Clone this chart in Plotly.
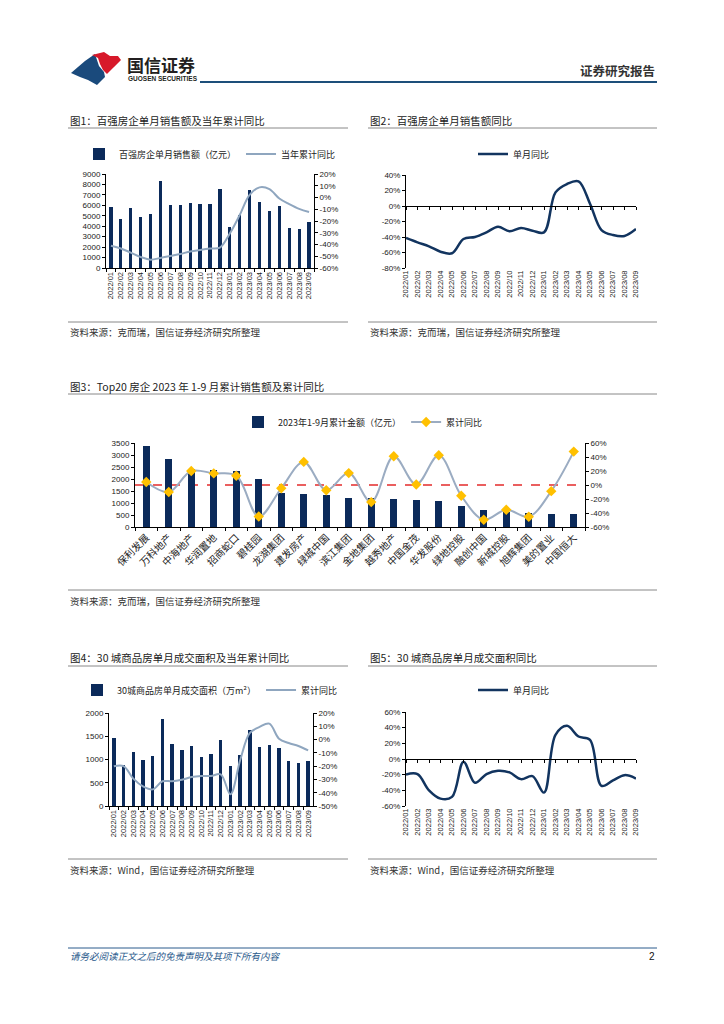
import plotly.graph_objects as go

W, H = 724, 1024

# ---------------- data ----------------
months = ["2022/01", "2022/02", "2022/03", "2022/04", "2022/05", "2022/06", "2022/07",
          "2022/08", "2022/09", "2022/10", "2022/11", "2022/12", "2023/01", "2023/02",
          "2023/03", "2023/04", "2023/05", "2023/06", "2023/07", "2023/08", "2023/09"]

top100_sales = [5850, 4660, 5750, 4890, 5180, 8300, 6050, 6050, 6240, 6140, 6140, 7590,
                3920, 5080, 7460, 6330, 5470, 5980, 3790, 3730, 4400]
top100_cum_yoy = [-41, -43.4, -46.9, -50.6, -52.9, -51.4, -49.7, -48, -46, -44.6, -43.4, -42.6,
                  -30.6, -14.9, 2.3, 8.6, 7.1, -0.9, -5.7, -9.7, -12.3]
top100_month_yoy = [-41.3, -47, -52, -59, -61, -42.6, -40, -34, -26.7, -32.7, -28.4, -31.8,
                    -34, 17.6, 28.4, 31.8, 3, -31, -37.4, -38.7, -29.7]

top20_names = ["保利发展", "万科地产", "中海地产", "华润置地", "招商蛇口", "碧桂园", "龙湖集团",
               "建发房产", "绿城中国", "滨江集团", "金地集团", "越秀地产", "中国金茂", "华发股份",
               "绿地控股", "融创中国", "新城控股", "旭辉集团", "美的置业", "中国恒大"]
top20_sales = [3360, 2850, 2400, 2360, 2320, 1990, 1420, 1360, 1320, 1220, 1220, 1150, 1110,
               1070, 860, 720, 625, 570, 530, 530]
top20_yoy = [4.3, -10, 20, 16.6, 13.3, -45, -4.7, 33, -7.6, 17, -24.4, 41, 0.7, 42.5, -15.4,
             -49.6, -35.3, -45.3, -8.8, 47.7]

city30_area = [1460, 875, 1155, 982, 1068, 1864, 1326, 1197, 1283, 1061, 1125, 1412, 853, 1090,
               1634, 1262, 1305, 1240, 960, 932, 960]
city30_cum_yoy = [-20.1, -20, -29.4, -35.2, -37.5, -31.4, -31.4, -30.2, -28.2, -27.4, -27.4, -26.2,
                  -41.2, -15.6, 5, 9.5, 12, 0.7, -2.6, -4.8, -8.1]
city30_month_yoy = [-19.7, -19.3, -40, -50.6, -48.4, -3.4, -30.4, -19.3, -15, -17.1, -25.7, -21.9,
                    -42.9, 30.9, 42.4, 28.7, 24.4, -34.3, -27.4, -20.6, -24.9]

pct_ticks_1 = [-60, -50, -40, -30, -20, -10, 0, 10, 20]
pct_ticks_2 = [-80, -60, -40, -20, 0, 20, 40]
pct_ticks_3 = [-60, -40, -20, 0, 20, 40, 60]
pct_ticks_4 = [-50, -40, -30, -20, -10, 0, 10, 20]
pct_ticks_5 = [-60, -40, -20, 0, 20, 40, 60]

# ---------------- styles ----------------
NAVY = "#0b2a5a"
NAVY_LINE = "#12345f"
GREY_LINE = "#8fa6bf"
GREY_LINE3 = "#9bacc2"
YELLOW = "#ffc000"
RED = "#e32b2b"
CJK = "Noto Sans CJK SC"
NUMF = "Arial, 'Liberation Sans', 'Noto Sans CJK SC'"
TXT = "#222222"


def PX(x):
    return x / W


def PY(y):
    return 1 - y / H


def xdom(a, b):
    return [a / W, b / W]


def ydom(top, bottom):
    return [1 - bottom / H, 1 - top / H]


def pct_text(vals):
    return [("-" if v < 0 else "") + f"{abs(v)}%" for v in vals]


idx = list(range(len(months)))

fig = go.Figure()

# ---------------- chart 1 ----------------
fig.add_trace(go.Bar(x=months, y=top100_sales, name="百强房企单月销售额（亿元）",
                     marker=dict(color=NAVY, line=dict(width=0)), width=0.33,
                     xaxis="x", yaxis="y", legend="legend"))
fig.add_trace(go.Scatter(x=months, y=top100_cum_yoy, name="当年累计同比", mode="lines",
                         line=dict(color=GREY_LINE, width=2, shape="spline", smoothing=1),
                         xaxis="x", yaxis="y2", legend="legend"))

# ---------------- chart 2 ----------------
fig.add_trace(go.Scatter(x=idx, y=top100_month_yoy, name="单月同比", mode="lines",
                         line=dict(color=NAVY_LINE, width=2.5, shape="spline", smoothing=1),
                         xaxis="x2", yaxis="y3", legend="legend2"))
fig.add_trace(go.Scatter(x=[None], y=[None], xaxis="x3", yaxis="y3", showlegend=False,
                         hoverinfo="skip"))

# ---------------- chart 3 ----------------
fig.add_trace(go.Bar(x=top20_names, y=top20_sales, name="2023年1-9月累计金额（亿元）",
                     marker=dict(color=NAVY, line=dict(width=0)), width=0.33,
                     xaxis="x4", yaxis="y4", legend="legend3"))
fig.add_trace(go.Scatter(x=top20_names, y=top20_yoy, name="累计同比", mode="lines+markers",
                         line=dict(color=GREY_LINE3, width=2, shape="spline", smoothing=1),
                         marker=dict(symbol="diamond", size=8, color=YELLOW),
                         xaxis="x4", yaxis="y5", legend="legend3"))

# ---------------- chart 4 ----------------
fig.add_trace(go.Bar(x=months, y=city30_area, name="30城商品房单月成交面积（万m²）",
                     marker=dict(color=NAVY, line=dict(width=0)), width=0.34,
                     xaxis="x5", yaxis="y6", legend="legend4"))
fig.add_trace(go.Scatter(x=months, y=city30_cum_yoy, name="累计同比", mode="lines",
                         line=dict(color=GREY_LINE, width=2, shape="spline", smoothing=1),
                         xaxis="x5", yaxis="y7", legend="legend4"))

# ---------------- chart 5 ----------------
fig.add_trace(go.Scatter(x=idx, y=city30_month_yoy, name="单月同比", mode="lines",
                         line=dict(color=NAVY_LINE, width=2.5, shape="spline", smoothing=1),
                         xaxis="x6", yaxis="y8", legend="legend5"))
fig.add_trace(go.Scatter(x=[None], y=[None], xaxis="x7", yaxis="y8", showlegend=False,
                         hoverinfo="skip"))

# ---------------- axes ----------------
tickfont = dict(family=NUMF, size=8, color=TXT)
base = dict(showgrid=False, zeroline=False, showline=True, linecolor="#000", linewidth=1,
            ticks="outside", ticklen=3, tickcolor="#000", tickfont=tickfont, fixedrange=True,
            automargin=False)

d1x, d1y = xdom(106, 314), ydom(174, 268)
d2x, d2y = xdom(406, 636), ydom(175, 268)
d3x, d3y = xdom(135, 585), ydom(443, 527)
d4x, d4y = xdom(109, 313), ydom(713, 806)
d5x, d5y = xdom(406, 636), ydom(712, 806)

layout_axes = dict(
    # chart 1
    xaxis=dict(base, domain=d1x, anchor="y", type="category", range=[-0.5, 20.5],
               tickmode="array", tickvals=months, ticktext=months,
               tickangle=-90, tickson="boundaries", tickfont=dict(tickfont, size=7.5)),
    yaxis=dict(base, domain=d1y, anchor="x", range=[0, 9000], dtick=1000),
    yaxis2=dict(base, overlaying="y", side="right", anchor="x", range=[-60, 20],
                tickvals=pct_ticks_1, ticktext=pct_text(pct_ticks_1)),
    # chart 2
    xaxis2=dict(base, domain=d2x, anchor="y3", range=[0, 20], tickvals=idx, ticktext=months,
                tickangle=-90, showline=False, ticks="", tickfont=dict(tickfont, size=7.5)),
    yaxis3=dict(base, domain=d2y, anchor="x2", range=[-80, 40],
                tickvals=pct_ticks_2, ticktext=pct_text(pct_ticks_2)),
    xaxis3=dict(base, overlaying="x2", anchor="free",
                position=d2y[0] + (80 / 120) * (d2y[1] - d2y[0]),
                range=[0, 20], tickvals=idx, showticklabels=False),
    # chart 3
    xaxis4=dict(base, domain=d3x, anchor="y4", type="category", range=[-0.5, 19.5],
                tickangle=-45, tickson="boundaries",
                tickfont=dict(family=CJK, size=10, color=TXT)),
    yaxis4=dict(base, domain=d3y, anchor="x4", range=[0, 3500], dtick=500),
    yaxis5=dict(base, overlaying="y4", side="right", anchor="x4", range=[-60, 60],
                tickvals=pct_ticks_3, ticktext=pct_text(pct_ticks_3)),
    # chart 4
    xaxis5=dict(base, domain=d4x, anchor="y6", type="category", range=[-0.5, 20.5],
                tickmode="array", tickvals=months, ticktext=months,
                tickangle=-90, tickson="boundaries", tickfont=dict(tickfont, size=7.5)),
    yaxis6=dict(base, domain=d4y, anchor="x5", range=[0, 2000], dtick=500),
    yaxis7=dict(base, overlaying="y6", side="right", anchor="x5", range=[-50, 20],
                tickvals=pct_ticks_4, ticktext=pct_text(pct_ticks_4)),
    # chart 5
    xaxis6=dict(base, domain=d5x, anchor="y8", range=[0, 20], tickvals=idx, ticktext=months,
                tickangle=-90, showline=False, ticks="", tickfont=dict(tickfont, size=7.5)),
    yaxis8=dict(base, domain=d5y, anchor="x6", range=[-60, 60],
                tickvals=pct_ticks_5, ticktext=pct_text(pct_ticks_5)),
    xaxis7=dict(base, overlaying="x6", anchor="free",
                position=d5y[0] + 0.5 * (d5y[1] - d5y[0]),
                range=[0, 20], tickvals=idx, showticklabels=False),
)


# ---------------- legends ----------------
def leg(cx, cy):
    return dict(x=PX(cx), y=PY(cy), xanchor="center", yanchor="middle", orientation="h",
                font=dict(family=CJK, size=9, color=TXT), bgcolor="rgba(0,0,0,0)",
                itemclick=False, itemdoubleclick=False)


# ---------------- annotations ----------------
ann = []


def text(x, y, s, size=10, color=TXT, anchor="left", family=CJK):
    ann.append(dict(x=PX(x), y=PY(y), xref="paper", yref="paper", text=s, showarrow=False,
                    xanchor=anchor, yanchor="middle",
                    font=dict(family=family, size=size, color=color)))


text(125, 64, "<b>国信证券</b>", size=17, color="#231f20")
text(126, 78, "<b>GUOSEN SECURITIES</b>", size=6.5, color="#231f20", family=NUMF)
text(657, 70, "<b>证券研究报告</b>", size=12.5, color="#333333", anchor="right")

text(68, 120, "图1：百强房企单月销售额及当年累计同比", size=10.5)
text(368, 120, "图2：百强房企单月销售额同比", size=10.5)
text(68, 386, "图3：Top20 房企 2023 年 1-9 月累计销售额及累计同比", size=10.5)
text(68, 657, "图4：30 城商品房单月成交面积及当年累计同比", size=10.5)
text(368, 657, "图5：30 城商品房单月成交面积同比", size=10.5)

text(68, 332, "资料来源：克而瑞，国信证券经济研究所整理", size=9.5, color="#333")
text(368, 332, "资料来源：克而瑞，国信证券经济研究所整理", size=9.5, color="#333")
text(68, 601, "资料来源：克而瑞，国信证券经济研究所整理", size=9.5, color="#333")
text(68, 870, "资料来源：Wind，国信证券经济研究所整理", size=9.5, color="#333")
text(368, 870, "资料来源：Wind，国信证券经济研究所整理", size=9.5, color="#333")

text(68, 956, "<i>请务必阅读正文之后的免责声明及其项下所有内容</i>", size=9.5, color="#2a5a8c")
text(657, 956, "2", size=10, color="#111", anchor="right", family=NUMF)

# ---------------- shapes ----------------
shapes = []


def hline(x0, x1, y, color="#888888", width=1):
    shapes.append(dict(type="line", xref="paper", yref="paper", x0=PX(x0), x1=PX(x1),
                       y0=PY(y), y1=PY(y), line=dict(color=color, width=width)))


def path(points, color):
    d = "M " + " L ".join(f"{PX(a):.5f},{PY(b):.5f}" for a, b in points) + " Z"
    shapes.append(dict(type="path", xref="paper", yref="paper", path=d,
                       fillcolor=color, line=dict(width=0)))


# header
hline(200, 657, 82, color="#1d4f7a", width=2)
path([(71, 73), (85, 61), (95, 54), (97, 60), (99, 66), (104, 72), (105, 77), (97, 85), (88, 80), (80, 77)], "#1a4a7c")
path([(92, 55), (104, 52), (110, 56), (118, 56), (121, 60), (114, 67), (107, 74), (103, 70), (100, 64), (98, 58)], "#d7192a")

# title underlines
hline(68, 348, 128)
hline(368, 657, 128)
hline(68, 657, 394)
hline(68, 348, 666)
hline(368, 657, 666)
# source lines
hline(68, 348, 322)
hline(368, 657, 322)
hline(68, 657, 590)
hline(68, 348, 859)
hline(368, 657, 859)
# footer
hline(68, 657, 948, color="#2a5a8c", width=1)

# zero reference line in chart 3
shapes.append(dict(type="line", xref="x4 domain", yref="y5", x0=0, x1=1, y0=0, y1=0,
                   line=dict(color=RED, width=1.5, dash="dash"), layer="below"))

fig.update_layout(
    width=W, height=H, margin=dict(l=0, r=0, t=0, b=0, autoexpand=False),
    paper_bgcolor="white", plot_bgcolor="rgba(0,0,0,0)",
    showlegend=True, bargap=0, hovermode=False,
    legend=leg(210, 154), legend2=leg(514, 154), legend3=leg(363, 422),
    legend4=leg(210, 690), legend5=leg(514, 690),
    annotations=ann, shapes=shapes,
    **layout_axes,
)

fig.write_html(
    "out.html",
    config={"displayModeBar": False, "staticPlot": False},
    post_script="document.body.style.margin='0';document.body.style.overflow='hidden';",
)
